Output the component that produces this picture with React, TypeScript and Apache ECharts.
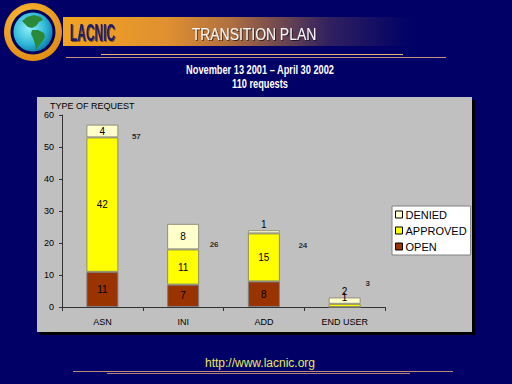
import React, { useEffect, useRef } from 'react';
import * as echarts from 'echarts';

// ---- data ----
const categories = ['ASN', 'INI', 'ADD', 'END USER'];
const openValues = [11, 7, 8, 0];
const approvedValues = [42, 11, 15, 1];
const deniedValues = [4, 8, 1, 2];
const totals = [57, 26, 24, 3];
const seriesNames = ['OPEN', 'APPROVED', 'DENIED'];
const legendOrder = ['DENIED', 'APPROVED', 'OPEN'];
const yMin = 0;
const yMax = 60;
const yInterval = 10;

const headerTitle = 'TRANSITION PLAN';
const brand = 'LACNIC';
const subtitleLine1 = 'November 13 2001 – April 30 2002';
const subtitleLine2 = '110 requests';
const axisTitle = 'TYPE OF REQUEST';
const footerUrl = 'http://www.lacnic.org';

// ---- styling (positions/offsets, not data) ----
const totalLabelOffsets: [number, number][] = [[34, 12], [31, 21], [39, 15], [23, -14]];
const deniedTopLabel = [false, false, true, true];
const approvedTopLabel = [false, false, false, true];

const FONT = 'Liberation Sans, Arial, sans-serif';
const BG = '#000066';

function segData(values: number[], topFlags: boolean[]) {
  return values.map((v, i) =>
    topFlags[i]
      ? { value: v, label: { position: 'top', distance: 1 } }
      : { value: v }
  );
}

export default function App() {
  const ref = useRef<HTMLDivElement>(null);

  useEffect(() => {
    if (!ref.current) return;
    const chart = echarts.init(ref.current, undefined, { renderer: 'svg' });

    const segLabel = {
      show: true,
      position: 'inside',
      fontSize: 10,
      fontFamily: FONT,
      color: '#000',
      formatter: (p: any) => (p.value === 0 ? '' : String(p.value)),
    };

    const option: any = {
      animation: false,
      backgroundColor: BG,
      textStyle: { fontFamily: FONT },
      graphic: [
        // banner
        {
          type: 'rect', z: -10,
          shape: { x: 63, y: 17, width: 347, height: 29 },
          style: {
            fill: new echarts.graphic.LinearGradient(0, 0, 1, 0, [
              { offset: 0, color: '#F2A421' },
              { offset: 0.3, color: '#E09030' },
              { offset: 0.48, color: '#B07040' },
              { offset: 0.77, color: '#302060' },
              { offset: 1, color: BG },
            ]),
          },
        },
        // header lines
        { type: 'line', z: -10, shape: { x1: 101, y1: 54.5, x2: 403, y2: 54.5 }, style: { stroke: '#E8B070', lineWidth: 1 } },
        { type: 'line', z: -10, shape: { x1: 66, y1: 57.5, x2: 446, y2: 57.5 }, style: { stroke: '#C89080', lineWidth: 1 } },
        // logo
        {
          type: 'circle', z: -9, shape: { cx: 33, cy: 32, r: 29 },
          style: {
            fill: new echarts.graphic.RadialGradient(0.4, 0.35, 0.7, [
              { offset: 0, color: '#FFC040' },
              { offset: 1, color: '#E08A10' },
            ]),
          },
        },
        { type: 'circle', z: -9, shape: { cx: 33, cy: 32, r: 22.5 }, style: { fill: '#00005A' } },
        {
          type: 'circle', z: -9, shape: { cx: 33, cy: 32, r: 19.5 },
          style: {
            fill: new echarts.graphic.RadialGradient(0.4, 0.4, 0.7, [
              { offset: 0, color: '#90F0F8' },
              { offset: 0.6, color: '#30B8D8' },
              { offset: 1, color: '#0070A0' },
            ]),
          },
        },
        {
          type: 'polygon', z: -9,
          shape: { points: [[22, 21], [27, 17], [34, 15], [41, 17], [43, 20], [39, 22], [36, 26], [32, 28], [28, 27], [25, 24]] },
          style: { fill: '#2A8A3A' },
        },
        {
          type: 'polygon', z: -9,
          shape: { points: [[32, 30], [38, 30], [44, 33], [45, 37], [42, 42], [38, 47], [36, 50], [35, 44], [33, 38], [31, 34]] },
          style: { fill: '#2A8A3A' },
        },
        // header texts
        {
          type: 'text', z: -8, x: 70, y: 33, scaleX: 0.52,
          style: {
            text: brand, fill: '#1C1C6E', font: `bold 23px ${FONT}`, verticalAlign: 'middle', align: 'left',
            textShadowColor: 'rgba(0,0,40,0.5)', textShadowOffsetX: 1, textShadowOffsetY: 1, textShadowBlur: 1,
          },
        },
        {
          type: 'text', z: -8, x: 254, y: 34, scaleX: 0.87,
          style: {
            text: headerTitle, fill: '#F4F4F4', font: `16px ${FONT}`, align: 'center', verticalAlign: 'middle',
            textShadowColor: 'rgba(0,0,0,0.6)', textShadowOffsetX: 1, textShadowOffsetY: 1, textShadowBlur: 1,
          },
        },
        {
          type: 'text', z: -8, x: 260, y: 70, scaleX: 0.77,
          style: { text: subtitleLine1, fill: '#FFFFFF', font: `bold 12px ${FONT}`, align: 'center', verticalAlign: 'middle' },
        },
        {
          type: 'text', z: -8, x: 260, y: 84, scaleX: 0.77,
          style: { text: subtitleLine2, fill: '#FFFFFF', font: `bold 12px ${FONT}`, align: 'center', verticalAlign: 'middle' },
        },
        // chart panel
        { type: 'rect', z: -10, shape: { x: 40, y: 100, width: 435, height: 235 }, style: { fill: '#000000' } },
        { type: 'rect', z: -9, shape: { x: 37, y: 97, width: 435, height: 235 }, style: { fill: '#C0C0C0' } },
        {
          type: 'text', z: -8, x: 50, y: 106,
          style: { text: axisTitle, fill: '#000', font: `9px ${FONT}`, align: 'left', verticalAlign: 'middle' },
        },
        // footer
        {
          type: 'text', z: -8, x: 260, y: 363,
          style: { text: footerUrl, fill: '#E8E860', font: `12px ${FONT}`, align: 'center', verticalAlign: 'middle' },
        },
        { type: 'line', z: -10, shape: { x1: 73, y1: 371.5, x2: 453, y2: 371.5 }, style: { stroke: '#C08878', lineWidth: 1 } },
        { type: 'line', z: -10, shape: { x1: 107, y1: 373.5, x2: 410, y2: 373.5 }, style: { stroke: '#B08078', lineWidth: 1 } },
      ],
      grid: { left: 62, right: 127, top: 115, bottom: 77, containLabel: false },
      legend: {
        data: legendOrder,
        orient: 'vertical',
        left: 392,
        top: 206,
        backgroundColor: '#FFFFFF',
        borderColor: '#808080',
        borderWidth: 1,
        borderRadius: 0,
        padding: [3, 4, 3, 3],
        itemWidth: 7,
        itemHeight: 7,
        itemGap: 5,
        icon: 'rect',
        itemStyle: { borderColor: '#000', borderWidth: 1 },
        textStyle: { fontSize: 11, color: '#000', fontFamily: FONT, lineHeight: 11, padding: [0, 0, 0, -2] },
      },
      xAxis: {
        type: 'category',
        data: categories,
        axisLine: { show: true, lineStyle: { color: '#333', width: 1 } },
        axisTick: { show: true, length: 4, lineStyle: { color: '#333' } },
        axisLabel: { fontSize: 9, color: '#000', margin: 10, fontFamily: FONT },
        splitLine: { show: false },
      },
      yAxis: {
        type: 'value',
        min: yMin,
        max: yMax,
        interval: yInterval,
        axisLine: { show: true, lineStyle: { color: '#333', width: 1 } },
        axisTick: { show: true, length: 3, lineStyle: { color: '#333' } },
        axisLabel: { fontSize: 9, color: '#000', margin: 8, fontFamily: FONT },
        splitLine: { show: false },
      },
      series: [
        {
          name: seriesNames[0], type: 'bar', stack: 'req', barWidth: 32,
          itemStyle: { color: '#993300', borderColor: '#7F7F7F', borderWidth: 1 },
          label: segLabel,
          data: openValues,
        },
        {
          name: seriesNames[1], type: 'bar', stack: 'req', barWidth: 32,
          itemStyle: { color: '#FFFF00', borderColor: '#8F8F5F', borderWidth: 1 },
          label: segLabel,
          data: segData(approvedValues, approvedTopLabel),
        },
        {
          name: seriesNames[2], type: 'bar', stack: 'req', barWidth: 32,
          itemStyle: { color: '#FFFFCC', borderColor: '#8F8F7F', borderWidth: 1 },
          label: segLabel,
          data: segData(deniedValues, deniedTopLabel),
        },
        {
          name: 'TOTAL', type: 'scatter', symbolSize: 1,
          itemStyle: { color: 'rgba(0,0,0,0)' },
          label: {
            show: true, position: 'inside', fontSize: 8, fontWeight: 'bold', color: '#000', fontFamily: FONT,
            formatter: (p: any) => String(p.value),
          },
          data: totals.map((v, i) => ({ value: v, label: { offset: totalLabelOffsets[i] } })),
        },
      ],
    };

    chart.setOption(option);
    return () => chart.dispose();
  }, []);

  return (
    <div
      ref={ref}
      style={{ position: 'fixed', left: 0, top: 0, width: 512, height: 384 }}
    />
  );
}
